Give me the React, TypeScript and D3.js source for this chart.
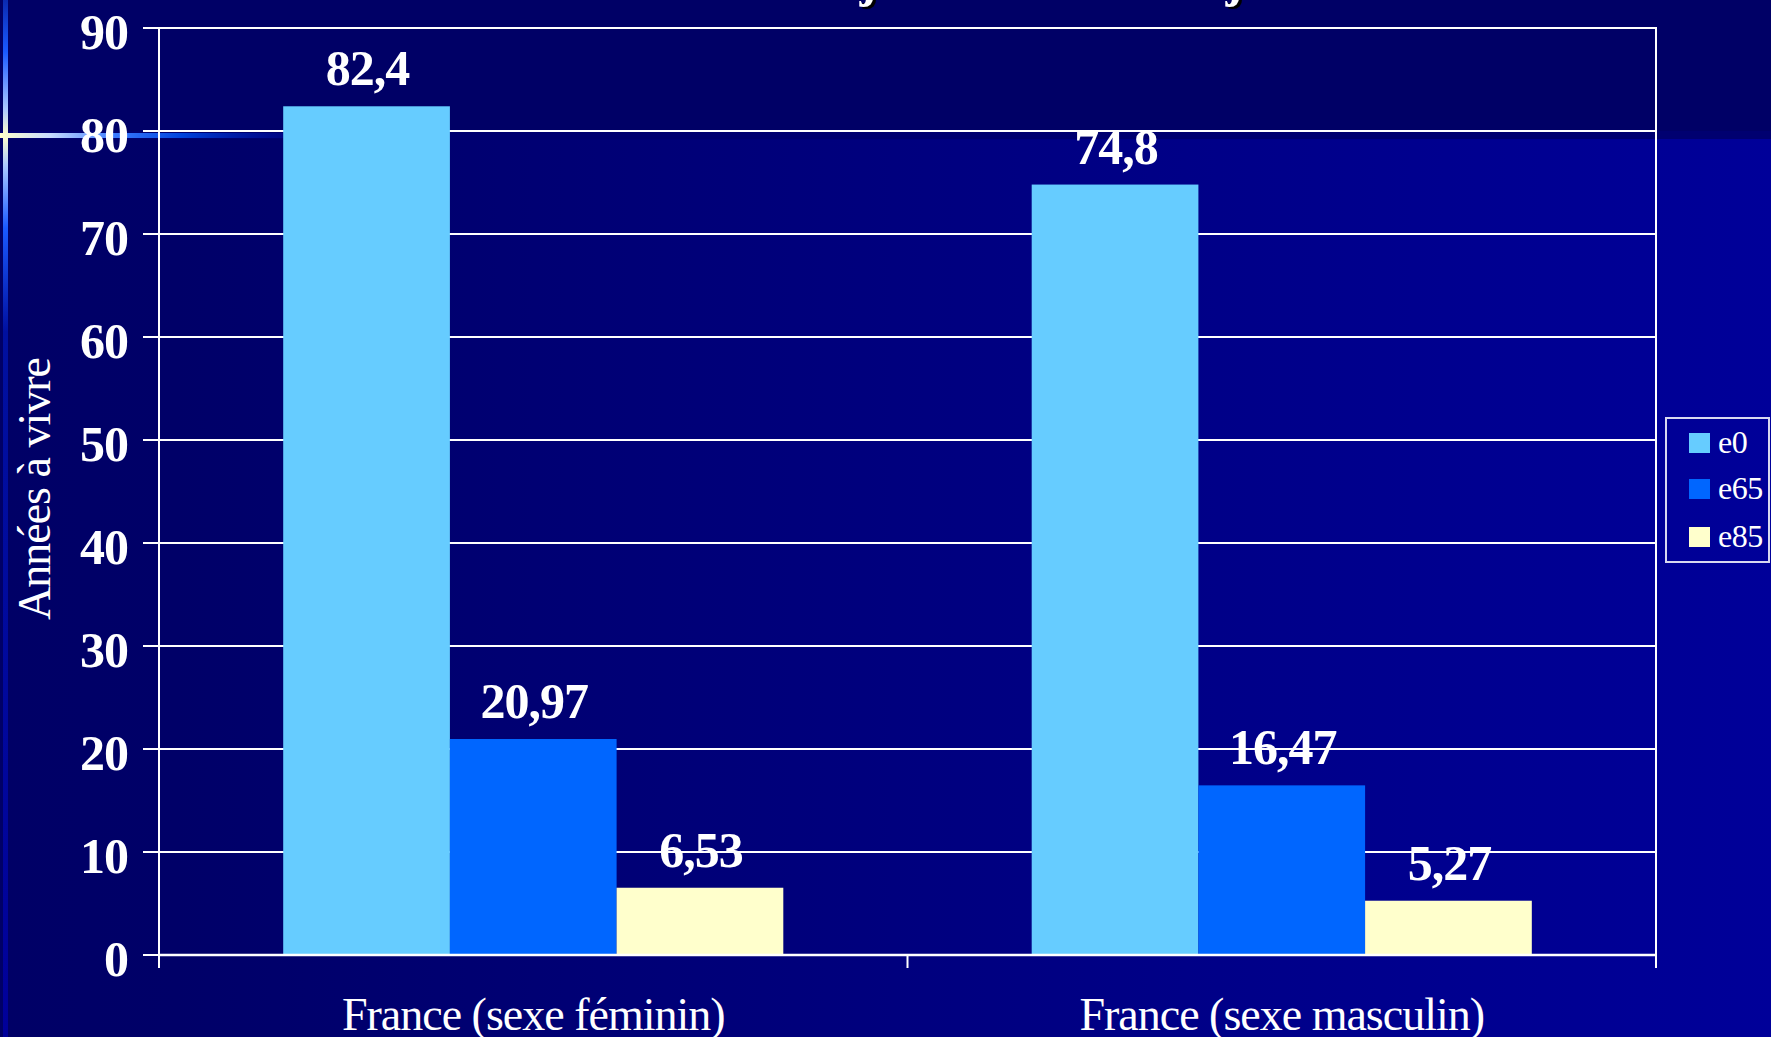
import React from "react";
import * as d3 from "d3";

const categories = ["France (sexe féminin)", "France (sexe masculin)"];
const seriesNames = ["e0", "e65", "e85"];
const e0 = [82.4, 74.8];
const e65 = [20.97, 16.47];
const e85 = [6.53, 5.27];
const seriesColors = ["#66ccff", "#0066ff", "#ffffcc"];
const yTickValues = [0, 10, 20, 30, 40, 50, 60, 70, 80, 90];
const yTitle = "Années à vivre";

const W = 1771;
const H = 1037;
const FONT = "'Liberation Serif', 'Times New Roman', serif";

export default function App() {
  const values = [e0, e65, e85];
  const y = d3.scaleLinear().domain([0, 90]).range([955, 28]);
  const x0 = d3.scaleBand<string>().domain(categories).range([159, 1656]);
  const x1 = d3
    .scaleBand<string>()
    .domain(seriesNames)
    .range([0, x0.bandwidth()])
    .paddingInner(0)
    .paddingOuter(0.745);
  const fmt = (v: number) => String(v).replace(".", ",");
  const left = 159;
  const right = 1656;

  return (
    <svg
      width={W}
      height={H}
      style={{ position: "absolute", left: 0, top: 0, display: "block" }}
      fontFamily={FONT}
    >
      <defs>
        <linearGradient id="bgGrad" x1="0" x2="1" y1="0" y2="0">
          <stop offset="0" stopColor="#000066" />
          <stop offset="0.1" stopColor="#000068" />
          <stop offset="1" stopColor="#000099" />
        </linearGradient>
        <linearGradient id="stripGrad" x1="0" x2="0" y1="0" y2="1">
          <stop offset="0" stopColor="#0a2ab0" />
          <stop offset="0.05" stopColor="#1a5aff" />
          <stop offset="0.105" stopColor="#aac8ff" />
          <stop offset="0.131" stopColor="#ffffcc" />
          <stop offset="0.16" stopColor="#aac8ff" />
          <stop offset="0.22" stopColor="#1a5aff" />
          <stop offset="0.32" stopColor="#0010a0" />
          <stop offset="1" stopColor="#00009a" />
        </linearGradient>
        <linearGradient id="hlineGrad" x1="0" x2="1" y1="0" y2="0">
          <stop offset="0" stopColor="#ffffcc" />
          <stop offset="0.15" stopColor="#c8dcff" />
          <stop offset="0.35" stopColor="#3a7aff" />
          <stop offset="0.55" stopColor="#0044dd" />
          <stop offset="1" stopColor="#000099" stopOpacity="0" />
        </linearGradient>
      </defs>

      {/* background */}
      <rect x={0} y={0} width={W} height={H} fill="url(#bgGrad)" />
      <rect x={0} y={0} width={W} height={139} fill="#000066" />
      <rect x={0} y={131} width={W} height={8} fill="#000077" opacity={0.6} />
      <rect x={3} y={0} width={5} height={H} fill="url(#stripGrad)" />
      <rect x={0} y={133} width={330} height={5} fill="url(#hlineGrad)" />

      {/* title fragments cut at top */}
      {[868, 1234].map((cx, i) => (
        <g key={"tf" + i}>
          <text x={cx + 3} y={-2} fontSize={50} fontWeight="bold" fill="#000000" textAnchor="middle">j</text>
          <text x={cx} y={-4} fontSize={50} fontWeight="bold" fill="#ffffff" textAnchor="middle">j</text>
        </g>
      ))}

      {/* gridlines */}
      {yTickValues.map((t) => (
        <line
          key={"g" + t}
          x1={143}
          x2={right}
          y1={y(t)}
          y2={y(t)}
          stroke="#ffffff"
          strokeWidth={2}
        />
      ))}

      {/* bars */}
      {categories.map((c, ci) => (
        <g key={c} transform={`translate(${x0(c)},0)`}>
          {seriesNames.map((s, si) => {
            const v = values[si][ci];
            return (
              <rect
                key={s}
                x={x1(s)}
                y={y(v)}
                width={x1.bandwidth()}
                height={y(0) - y(v)}
                fill={seriesColors[si]}
              />
            );
          })}
        </g>
      ))}

      {/* axes */}
      <line x1={left} x2={left} y1={y(90) - 1} y2={968} stroke="#ffffff" strokeWidth={2} />
      <line x1={right} x2={right} y1={y(90) - 1} y2={968} stroke="#ffffff" strokeWidth={2} />
      <line x1={left} x2={right} y1={y(0)} y2={y(0)} stroke="#ffffff" strokeWidth={2.5} />
      {[left, (x0(categories[1]) as number), right].map((xx, i) => (
        <line key={"xt" + i} x1={xx} x2={xx} y1={y(0)} y2={968} stroke="#ffffff" strokeWidth={2} />
      ))}

      {/* y tick labels */}
      {yTickValues.map((t) => (
        <text
          key={"yl" + t}
          x={128}
          y={y(t) + 21}
          fontSize={50}
          fontWeight="bold"
          fill="#ffffff"
          textAnchor="end"
          letterSpacing={-1}
        >
          {t}
        </text>
      ))}

      {/* data labels */}
      {categories.map((c, ci) =>
        seriesNames.map((s, si) => {
          const v = values[si][ci];
          const cx = (x0(c) as number) + (x1(s) as number) + x1.bandwidth() / 2;
          return (
            <text
              key={"dl" + c + s}
              x={cx + 1}
              y={y(v) - 21}
              fontSize={50}
              fontWeight="bold"
              fill="#ffffff"
              textAnchor="middle"
              letterSpacing={-1}
            >
              {fmt(v)}
            </text>
          );
        })
      )}

      {/* category labels */}
      {categories.map((c) => (
        <text
          key={"cl" + c}
          x={(x0(c) as number) + x0.bandwidth() / 2}
          y={1030}
          fontSize={46}
          fill="#ffffff"
          textAnchor="middle"
          letterSpacing={-1}
        >
          {c}
        </text>
      ))}

      {/* y title */}
      <text
        transform={`translate(50,489) rotate(-90)`}
        fontSize={46}
        fill="#ffffff"
        textAnchor="middle"
        letterSpacing={-1}
      >
        {yTitle}
      </text>

      {/* legend */}
      <rect x={1666} y={418} width={103} height={144} fill="none" stroke="#d8d8f0" strokeWidth={2} />
      {seriesNames.map((s, i) => {
        const ly = [443, 489, 537][i];
        return (
          <g key={"lg" + s}>
            <rect x={1689} y={ly - 10} width={21} height={20} fill={seriesColors[i]} />
            <text x={1718} y={ly + 10} fontSize={32} fill="#ffffff" letterSpacing={-0.5}>
              {s}
            </text>
          </g>
        );
      })}
    </svg>
  );
}
